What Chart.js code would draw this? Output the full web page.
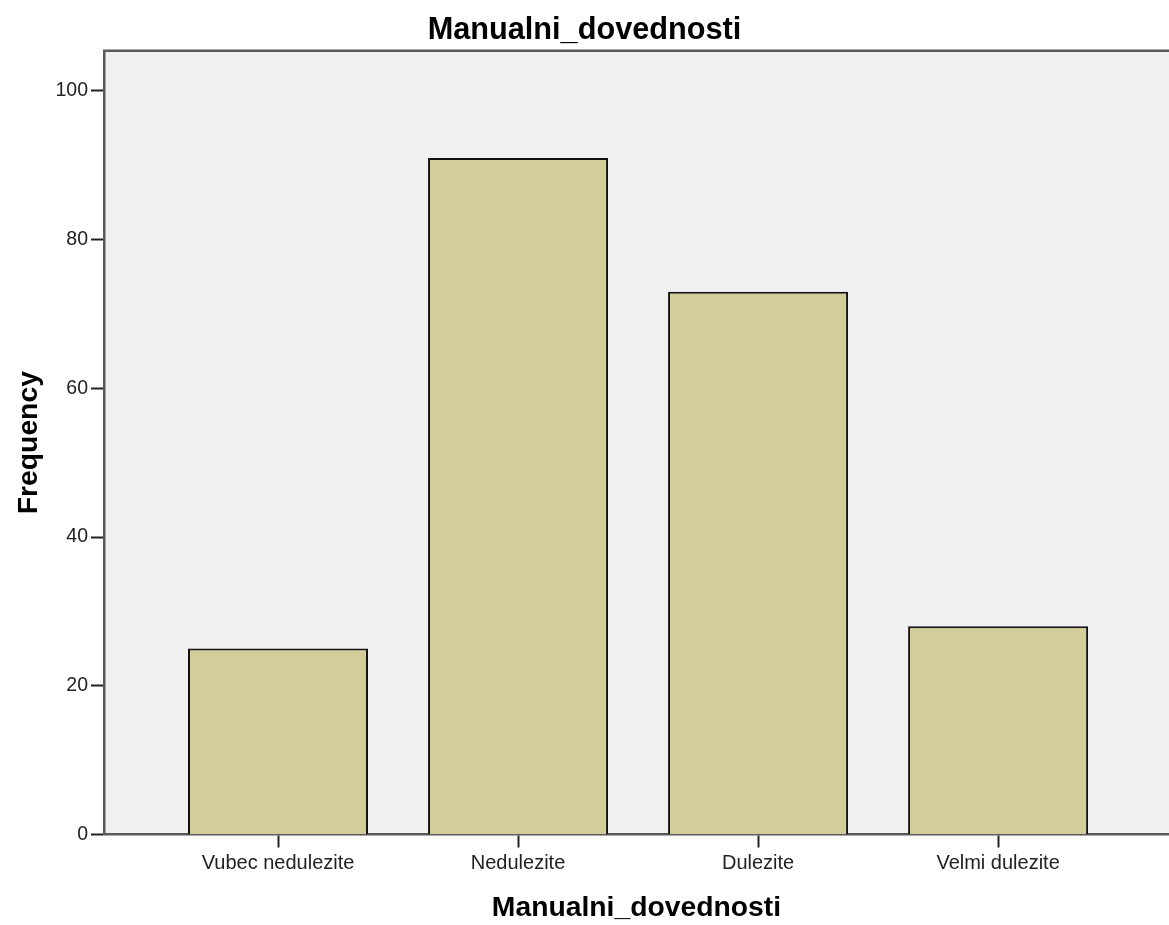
<!DOCTYPE html>
<html>
<head>
<meta charset="utf-8">
<script src="https://cdn.jsdelivr.net/npm/chart.js@4/dist/chart.umd.min.js"></script>
<style>
  html, body { margin: 0; padding: 0; background: #ffffff; }
  #wrap { width: 1169px; height: 925px; }
</style>
</head>
<body>
<div id="wrap"><canvas id="c" width="1169" height="925"></canvas></div>
<script>
const chartTitle = "Manualni_dovednosti";
const xAxisTitle = "Manualni_dovednosti";
const yAxisTitle = "Frequency";
const categories = ["Vubec nedulezite", "Nedulezite", "Dulezite", "Velmi dulezite"];
const frequencies = [25, 91, 73, 28];
const yTickValues = [0, 20, 40, 60, 80, 100];

const FONT = "'Liberation Sans', Arial, Helvetica, sans-serif";

const plotBackground = {
  id: 'plotBackground',
  beforeDraw(chart) {
    const { ctx, chartArea: a } = chart;
    ctx.save();
    ctx.fillStyle = '#f0f0f0';
    ctx.fillRect(a.left, a.top, a.right - a.left, a.bottom - a.top);
    ctx.restore();
  },
  afterDraw(chart) {
    const { ctx, chartArea: a } = chart;
    ctx.save();
    ctx.strokeStyle = '#5a5a5a';
    ctx.lineWidth = 2.5;
    ctx.beginPath();
    ctx.moveTo(a.left - 1, a.top);
    ctx.lineTo(a.right, a.top);
    ctx.stroke();
    ctx.restore();
  }
};

new Chart(document.getElementById('c'), {
  type: 'bar',
  data: {
    datasets: [{
      data: frequencies.map((v, i) => ({ x: i, y: v })),
      backgroundColor: '#d3ce99',
      borderColor: '#111111',
      borderWidth: 2,
      barPercentage: 0.75,
      categoryPercentage: 1.0
    }]
  },
  options: {
    responsive: false,
    devicePixelRatio: 1,
    animation: false,
    layout: { padding: { top: 0, left: 0, right: 0, bottom: 0 } },
    plugins: {
      legend: { display: false },
      tooltip: { enabled: false },
      title: {
        display: true,
        text: chartTitle,
        color: '#000000',
        font: { family: FONT, size: 30.7, weight: 'bold', lineHeight: 1.2 },
        padding: { top: 12, bottom: 2 }
      }
    },
    scales: {
      x: {
        type: 'linear',
        offset: false,
        min: -0.725,
        max: 3.712,
        afterBuildTicks(scale) {
          scale.ticks = categories.map((c, i) => ({ value: i }));
        },
        afterFit(scale) { scale.height = 90.5; },
        ticks: {
          autoSkip: false,
          maxRotation: 0,
          color: '#222222',
          font: { family: FONT, size: 20 },
          padding: 4,
          callback: (v) => categories[Math.round(v)]
        },
        grid: {
          display: true,
          offset: false,
          drawOnChartArea: false,
          drawTicks: true,
          tickLength: 13,
          tickColor: '#222222',
          tickWidth: 2
        },
        border: { display: true, color: '#5a5a5a', width: 2.5 },
        title: {
          display: true,
          text: xAxisTitle,
          color: '#000000',
          font: { family: FONT, size: 28.3, weight: 'bold', lineHeight: 1.2 },
          padding: { top: 4, bottom: 0 }
        }
      },
      y: {
        type: 'linear',
        min: 0,
        max: 105.4,
        afterBuildTicks(scale) {
          scale.ticks = yTickValues.map(v => ({ value: v }));
        },
        afterFit(scale) { scale.width = 104; },
        ticks: {
          color: '#222222',
          font: { family: FONT, size: 19.5 },
          padding: 3
        },
        grid: {
          display: true,
          drawOnChartArea: false,
          drawTicks: true,
          tickLength: 13,
          tickColor: '#222222',
          tickWidth: 2
        },
        border: { display: true, color: '#5a5a5a', width: 2.5 },
        title: {
          display: true,
          text: yAxisTitle,
          color: '#000000',
          font: { family: FONT, size: 28.3, weight: 'bold', lineHeight: 1.2 },
          padding: { top: 12, bottom: 4 }
        }
      }
    }
  },
  plugins: [plotBackground]
});
</script>
</body>
</html>
